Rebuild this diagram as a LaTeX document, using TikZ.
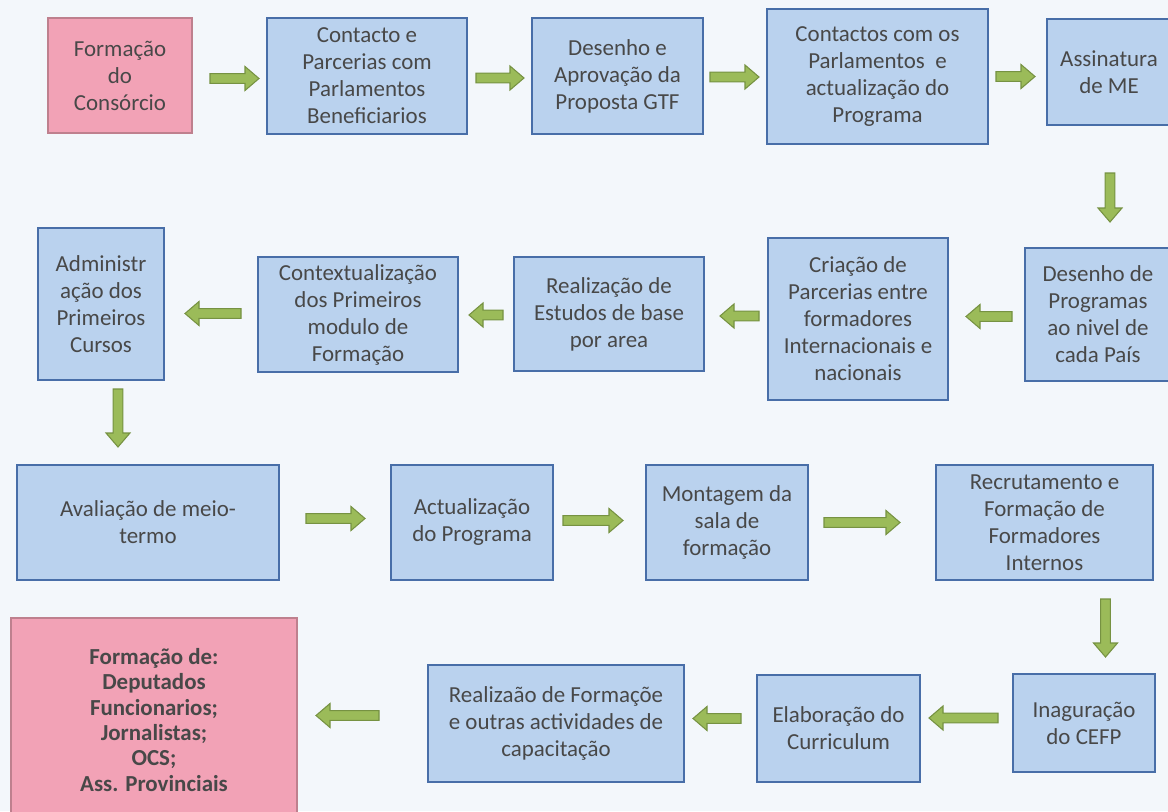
\documentclass[tikz,border=0pt]{standalone}
\usepackage{fontspec}
\setmainfont{Carlito}
\usetikzlibrary{calc}
\definecolor{bgc}{RGB}{243,247,251}
\definecolor{bluefill}{RGB}{186,210,238}
\definecolor{blueline}{RGB}{72,110,168}
\definecolor{pinkfill}{RGB}{242,162,182}
\definecolor{pinkline}{RGB}{190,128,142}
\definecolor{txt}{RGB}{72,72,72}
\definecolor{agreen}{RGB}{155,187,89}
\definecolor{adark}{RGB}{118,146,66}
\newcommand{\mybox}[7]{%
  \pgfmathsetmacro\bcx{(#3+#5)/2}%
  \pgfmathsetmacro\bcy{(#4+#6)/2}%
  \pgfmathsetmacro\bw{(#5-#3)*0.75}%
  \pgfmathsetmacro\bh{(#6-#4)*0.75}%
  \node[#1, minimum width=\bw pt, minimum height=\bh pt] (#2) at (\bcx,\bcy) {#7};}
\tikzset{
  bbox/.style={draw=blueline, fill=bluefill, line width=1.5pt, align=center,
    text=txt, inner sep=2pt, font=\fontsize{17.2pt}{20.25pt}\selectfont},
  pbox/.style={bbox, draw=pinkline, fill=pinkfill},
  pboldbox/.style={pbox, font=\fontsize{17.2pt}{19pt}\selectfont\bfseries},
  blk/.style={draw=adark, fill=agreen, line width=0.8pt, line join=miter,
    to path={let \p1=(\tikztostart), \p2=(\tikztotarget),
      \n1={atan2(\y2-\y1,\x2-\x1)}, \n2={veclen(\x2-\x1,\y2-\y1)},
      \n3={\n2-10.5pt}, \n4={\n1+90}, \n5={\n1-90} in
      ($(\p1)+({\n4}:3.6pt)$) -- ($(\p1)+({\n1}:\n3)+({\n4}:3.6pt)$)
      -- ($(\p1)+({\n1}:\n3)+({\n4}:9pt)$) -- (\p2)
      -- ($(\p1)+({\n1}:\n3)+({\n5}:9pt)$)
      -- ($(\p1)+({\n1}:\n3)+({\n5}:3.6pt)$)
      -- ($(\p1)+({\n5}:3.6pt)$) -- cycle}}
}
\begin{document}
\begin{tikzpicture}[x=0.75pt,y=-0.75pt]
\useasboundingbox (0,0) rectangle (1168,811);
\fill[bgc] (0,0) rectangle (1168,811);
% row 1
\mybox{pbox}{a1}{48}{18}{192}{133}{Formação\\do\\Consórcio}
\mybox{bbox}{a2}{267}{18}{467}{134}{Contacto e\\Parcerias com\\Parlamentos\\Beneficiarios}
\mybox{bbox}{a3}{532}{18}{703}{134}{Desenho e\\Aprovação da\\Proposta GTF}
\mybox{bbox}{a4}{767}{9}{988}{144}{Contactos com os\\Parlamentos\ \ e\\actualização do\\Programa}
\mybox{bbox}{a5}{1047}{19}{1171}{125}{Assinatura\\de ME}
% row 2
\mybox{bbox}{b5}{1025}{248}{1171}{381}{Desenho de\\Programas\\ao nivel de\\cada País}
\mybox{bbox}{b4}{768}{238}{948}{400}{Criação de\\Parcerias entre\\formadores\\Internacionais e\\nacionais}
\mybox{bbox}{b3}{514}{257}{704}{371}{Realização de\\Estudos de base\\por area}
\mybox{bbox}{b2}{258}{257}{458}{372}{Contextualização\\dos Primeiros\\modulo de\\Formação}
\mybox{bbox}{b1}{38}{228}{164}{380}{Administr\\ação dos\\Primeiros\\Cursos}
% row 3
\mybox{bbox}{c1}{17}{465}{279}{580}{Avaliação de meio-\\termo}
\mybox{bbox}{c2}{391}{465}{553}{580}{Actualização\\do Programa}
\mybox{bbox}{c3}{646}{465}{808}{580}{Montagem da\\sala de\\formação}
\mybox{bbox}{c4}{936}{465}{1153}{580}{Recrutamento e\\Formação de\\Formadores\\Internos}
% row 4
\mybox{bbox}{d4}{1013}{674}{1155}{772}{Inaguração\\do CEFP}
\mybox{bbox}{d3}{757}{675}{920}{782}{Elaboração do\\Curriculum}
\mybox{bbox}{d2}{428}{665}{684}{782}{Realizaão de Formaçõe\\e outras actividades de\\capacitação}
\mybox{pboldbox}{d1}{11}{618}{297}{822}{Formação de:\\Deputados\\Funcionarios;\\Jornalistas;\\OCS;\\Ass. Provinciais}
% arrows
\draw[blk] ($(a1.east)+(17,3)$) to ($(a1.east -| a2.west)+(-7,3)$);
\draw[blk] ($(a2.east)+(8,2)$) to ($(a2.east -| a3.west)+(-7,2)$);
\draw[blk] ($(a3.east)+(6,1)$) to ($(a3.east -| a4.west)+(-7,1)$);
\draw[blk] ($(a4.east)+(7,0)$) to ($(a4.east -| a5.west)+(-11,0)$);
\draw[blk] ($(a5.south)+(1,47)$) to ($(a5.south |- b5.north)+(1,-25)$);
\draw[blk] ($(b5.west)+(-12,2)$) to ($(b5.west -| b4.east)+(17,2)$);
\draw[blk] ($(b4.west)+(-8,-3)$) to ($(b4.west -| b3.east)+(15,-3)$);
\draw[blk] ($(b3.west)+(-10,1)$) to ($(b3.west -| b2.east)+(10,1)$);
\draw[blk] ($(b2.west)+(-16,-1)$) to ($(b2.west -| b1.east)+(20,-1)$);
\draw[blk] ($(b1.south)+(17,8)$) to ($(b1.south |- c1.north)+(17,-17)$);
\draw[blk] ($(c1.east)+(26,-4)$) to ($(c1.east -| c2.west)+(-25,-4)$);
\draw[blk] ($(c2.east)+(9,-2)$) to ($(c2.east -| c3.west)+(-22,-2)$);
\draw[blk] ($(c3.east)+(15,0)$) to ($(c3.east -| c4.west)+(-35,0)$);
\draw[blk] ($(c4.south)+(61,18)$) to ($(c4.south |- d4.north)+(61,-16)$);
\draw[blk] ($(d4.west)+(-14,-5)$) to ($(d4.west -| d3.east)+(8,-5)$);
\draw[blk] ($(d3.west)+(-15,-10)$) to ($(d3.west -| d2.east)+(8,-10)$);
\draw[blk] ($(d2.west)+(-48,-8)$) to ($(d2.west -| d1.east)+(18,-8)$);
\end{tikzpicture}
\end{document}
